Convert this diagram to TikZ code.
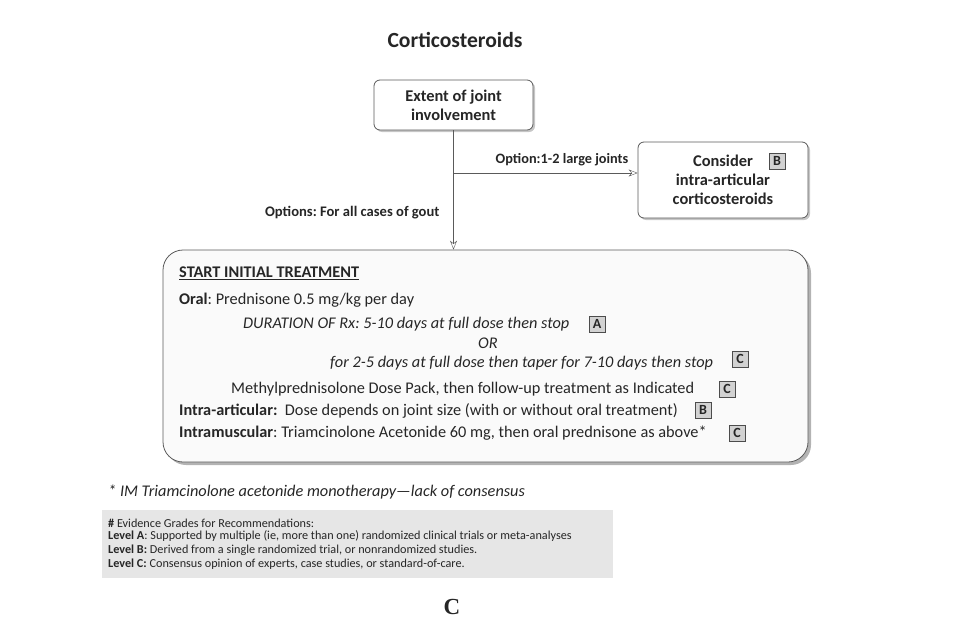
\documentclass[tikz,border=0pt]{standalone}
\usepackage{fontspec}
\setmainfont{Carlito}
\newfontfamily\letterfont{Liberation Serif}
\usetikzlibrary{arrows.meta,positioning,shadows}

\definecolor{inkgray}{HTML}{262626}
\definecolor{framegray}{HTML}{5A5A5A}
\definecolor{notegray}{HTML}{E6E6E6}
\frenchspacing

\begin{document}
\begin{tikzpicture}[x=1pt,y=-1pt,
    every node/.style={text=inkgray},
    stepbox/.style={draw=framegray,thick,rounded corners=6pt,fill=white,align=center,
      font=\fontsize{16.4}{19}\selectfont\bfseries,
      drop shadow={shadow xshift=2pt,shadow yshift=-2pt,opacity=.45}},
    grade/.style={draw=black!70,fill=gray!35,minimum size=16pt,inner sep=0pt,
      font=\fontsize{14}{14}\selectfont\bfseries,
      drop shadow={shadow xshift=1.2pt,shadow yshift=-1.2pt,opacity=.6}},
    txt/.style={anchor=west,inner sep=0pt,font=\fontsize{16.3}{18}\selectfont},
    note/.style={anchor=west,inner sep=0pt,font=\fontsize{12.2}{13}\selectfont},
    flow/.style={draw=framegray,-{Stealth[length=9pt,width=7pt,open]}}]
  \useasboundingbox (0,0) rectangle (966,632);

  \node (title) at (455,40) {\fontsize{21.6}{24}\selectfont\bfseries Corticosteroids};

  % boxes
  \node[stepbox,minimum width=159pt,minimum height=50pt] (extent) at (453.5,105)
    {Extent of joint\\involvement};
  \node[stepbox,minimum width=170pt,minimum height=76pt] (consider) at (723,180)
    {Consider\hspace{2.2em}\\intra-articular\\corticosteroids};
  \node[grade] (gB1) at (777,161) {B};

  \node[draw=framegray,thick,rounded corners=20pt,fill=gray!4,
    minimum width=645pt,minimum height=212pt,
    drop shadow={shadow xshift=3pt,shadow yshift=-3pt,opacity=.6}] (start) at (485.5,356) {};

  % connectors
  \coordinate (split) at (453,173);
  \draw[flow] (extent.south) -- (extent.south |- start.north);
  \draw[flow] (split) -- (split -| consider.west);
  \node[font=\fontsize{14.3}{16}\selectfont\bfseries] (lblB) at (562,160) {Option:1-2 large joints};
  \node[font=\fontsize{14.6}{16}\selectfont\bfseries,anchor=east] (lblAll) at (443,213) {Options: For all cases of gout};

  % treatment text
  \node[txt] (head) at (179,273) {\bfseries\underline{START INITIAL TREATMENT}};
  \node[txt] (oral) at (179,300) {\textbf{Oral}: Prednisone 0.5 mg/kg per day};
  \node[txt] (dur) at (243,324) {\itshape DURATION OF Rx: 5-10 days at full dose then stop};
  \node[grade] (gA) at (597,324) {A};
  \node[txt,anchor=center] (or) at (488,343) {\itshape OR};
  \node[txt] (taper) at (330,363) {\itshape for 2-5 days at full dose then taper for 7-10 days then stop};
  \node[grade] (gC1) at (740,359) {C};
  \node[txt] (pack) at (231,389) {Methylprednisolone Dose Pack, then follow-up treatment as Indicated};
  \node[grade] (gC2) at (727,389) {C};
  \node[txt] (intra) at (179,411) {\textbf{Intra-articular:}\ \ Dose depends on joint size (with or without oral treatment)};
  \node[grade] (gB2) at (703,410) {B};
  \node[txt] (im) at (179,433) {\textbf{Intramuscular}: Triamcinolone Acetonide 60 mg, then oral prednisone as above*};
  \node[grade] (gC3) at (737,433) {C};

  % footnotes
  \node[txt] (star) at (108,492) {\itshape * IM Triamcinolone acetonide monotherapy---lack of consensus};
  \fill[notegray] (102,510) rectangle (613,578);
  \node[note] (ev) at (108,523) {\textbf{\#} Evidence Grades for Recommendations:};
  \node[note] (lvA) at (108,536) {\textbf{Level A}: Supported by multiple (ie, more than one) randomized clinical trials or meta-analyses};
  \node[note] (lvB) at (108,550) {\textbf{Level B:} Derived from a single randomized trial, or nonrandomized studies.};
  \node[note] (lvC) at (108,564) {\textbf{Level C:} Consensus opinion of experts, case studies, or standard-of-care.};

  \node (panel) at (452,607) {\letterfont\bfseries\fontsize{23}{25}\selectfont C};
\end{tikzpicture}
\end{document}
